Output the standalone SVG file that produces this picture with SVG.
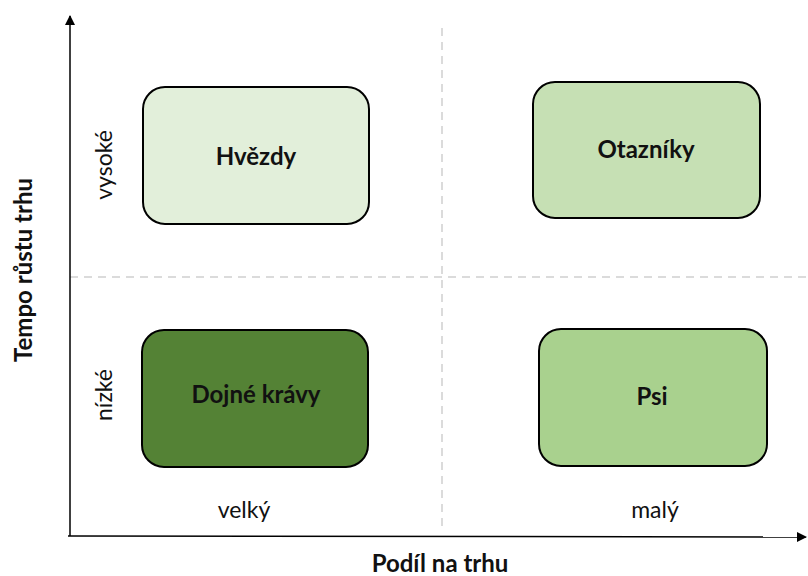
<svg xmlns="http://www.w3.org/2000/svg" width="808" height="576" viewBox="0 0 808 576">
  <defs>
    <marker id="arrow" viewBox="0 0 10 10" refX="9" refY="5" markerWidth="10" markerHeight="10" markerUnits="userSpaceOnUse" orient="auto">
      <path d="M0,0 L10,5 L0,10 Z" fill="#000"/>
    </marker>
    <style>
      .box { stroke: #000; stroke-width: 2; }
      .name { font-family: Lato, "Liberation Sans", sans-serif; font-weight: bold; font-size: 24px; fill: #111; text-anchor: middle; dominant-baseline: central; }
      .lab { font-family: Lato, "Liberation Sans", sans-serif; font-size: 23px; fill: #111; text-anchor: middle; dominant-baseline: central; }
      .title { font-family: Lato, "Liberation Sans", sans-serif; font-weight: bold; font-size: 24px; fill: #111; text-anchor: middle; dominant-baseline: central; }
      .grid { stroke: #d0d0d0; stroke-width: 1.5; stroke-dasharray: 8 6; fill: none; }
      .axis { stroke: #000; stroke-width: 1.5; fill: none; }
    </style>
  </defs>

  <!-- quadrant dividers -->
  <g id="grid">
    <line class="grid" x1="70" y1="277" x2="808" y2="277"/>
    <line class="grid" x1="442" y1="28" x2="442" y2="530"/>
  </g>

  <!-- axes -->
  <g id="axes">
    <line class="axis" x1="70" y1="536" x2="70" y2="16" marker-end="url(#arrow)"/>
    <line class="axis" x1="68" y1="536" x2="806" y2="537" marker-end="url(#arrow)"/>
  </g>

  <!-- axis labels -->
  <text class="title" transform="translate(22,270) rotate(-90)">Tempo růstu trhu</text>
  <text class="lab" transform="translate(103,165) rotate(-90)">vysoké</text>
  <text class="lab" transform="translate(103,395) rotate(-90)">nízké</text>
  <text class="lab" x="244" y="509">velký</text>
  <text class="lab" x="655" y="509">malý</text>
  <text class="title" x="440" y="562">Podíl na trhu</text>

  <!-- quadrants -->
  <g id="hvezdy">
    <rect class="box" x="143" y="87" width="226" height="137" rx="22" fill="#E2EFDA"/>
    <text class="name" x="256" y="155">Hvězdy</text>
  </g>
  <g id="otazniky">
    <rect class="box" x="533" y="82" width="227" height="136" rx="22" fill="#C6E0B4"/>
    <text class="name" x="646" y="148">Otazníky</text>
  </g>
  <g id="dojne-kravy">
    <rect class="box" x="142" y="330" width="226" height="137" rx="22" fill="#548235"/>
    <text class="name" x="256" y="393">Dojné krávy</text>
  </g>
  <g id="psi">
    <rect class="box" x="539" y="329" width="228" height="137" rx="22" fill="#A9D18E"/>
    <text class="name" x="652" y="395">Psi</text>
  </g>
</svg>
